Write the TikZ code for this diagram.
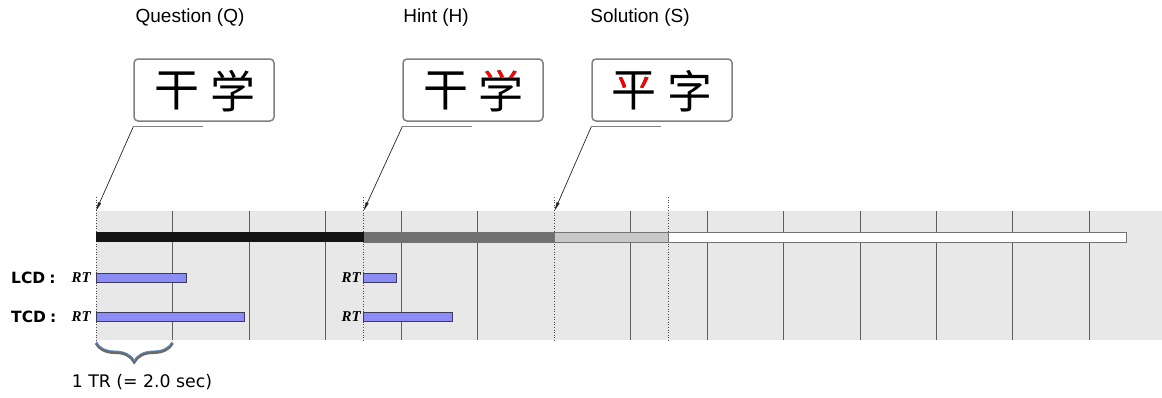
\documentclass[tikz,border=0pt]{standalone}
\usepackage{fontspec}
\setmainfont{Liberation Sans}
\newfontfamily\cjk{Noto Sans CJK SC}
\newfontfamily\dvs{DejaVu Sans}
\newfontfamily\tnr{Liberation Serif}
\usetikzlibrary{arrows.meta,decorations.pathreplacing,calc}
\definecolor{bggray}{HTML}{E8E8E8}
\definecolor{tickgray}{HTML}{5E5E5E}
\definecolor{rtblue}{HTML}{8C8CF6}
\definecolor{rtedge}{HTML}{3C3C5A}
\definecolor{segA}{HTML}{141414}
\definecolor{segB}{HTML}{707070}
\definecolor{segC}{HTML}{C8C8C8}
\definecolor{bracegray}{HTML}{6A6A6A}
\definecolor{braceblue}{HTML}{5B8CC8}
\begin{document}
\begin{tikzpicture}[x=1pt,y=-1pt,
  titletext/.style={font=\fontsize{19}{21}\selectfont, inner sep=0pt},
  charbox/.style={draw=gray, line width=1.5pt, rounded corners=4pt, fill=white,
                  minimum width=140pt, minimum height=62pt, inner sep=0pt},
  glyph/.style={font=\cjk\fontsize{45}{46}\selectfont, inner sep=0pt, anchor=center},
  callout/.style={draw=black!85, line width=0.7pt, -{Triangle[length=9pt,width=3pt]}},
  underline/.style={draw=gray, line width=1pt},
  tickline/.style={draw=tickgray, line width=1.4pt},
  evmark/.style={draw=black!70, line width=0.6pt, dotted},
  segbox/.style={draw=black!55, line width=0.7pt},
  rtbar/.style={draw=rtedge, fill=rtblue, line width=0.7pt},
  rowlab/.style={font=\dvs\bfseries\fontsize{15.5}{17}\selectfont, inner sep=0pt, anchor=west},
  rtlab/.style={font=\tnr\bfseries\itshape\fontsize{15}{17}\selectfont, inner sep=0pt, anchor=east},
  notetext/.style={font=\dvs\fontsize{17.3}{19}\selectfont, inner sep=0pt}
]
\useasboundingbox (0,0) rectangle (1162,397);

% titles
\node[titletext] (tq) at (190,18) {Question (Q)};
\node[titletext] (th) at (436,18) {Hint (H)};
\node[titletext] (ts) at (640,18) {Solution (S)};

% background panel
\fill[bggray] (96,211) rectangle (1162,340);

% ticks every TR
\foreach \xx in {172.5,249.5,325.5,401.5,477.5,630.5,707.5,783.5,860.5,936.5,1012.5,1089.5} {
  \draw[tickline] (\xx,211) -- (\xx,340);
}

% event markers (dotted)
\coordinate (qt) at (96,211);
\coordinate (ht) at (363.5,211);
\coordinate (st) at (554.5,211);
\coordinate (et) at (668.5,211);
\foreach \p in {qt,ht,st,et} {
  \draw[evmark] ([yshift=14pt]\p) -- ([yshift=-130pt]\p);
}

% timeline bar
\draw[segbox, fill=white] (668.5,232) rectangle (1126,242);
\draw[segbox, fill=segC] (554.5,232) rectangle (668.5,242);
\draw[segbox, fill=segB] (363.5,232) rectangle (554.5,242);
\fill[segA] (96,232) rectangle (363.5,242);

% boxes
\node[charbox] (qbox) at (204,90) {};
\node[charbox] (hbox) at (473,90) {};
\node[charbox] (sbox) at (662,90) {};

% characters
\node[glyph] (q1) at (177,91) {干};
\node[glyph] (q2) at (233,91) {学};
\node[glyph] (h1) at (446,91) {干};
\node[glyph] (h2) at (501,91) {学};
\node[glyph] (s1) at (634,91) {平};
\node[glyph] (s2) at (690,91) {字};

% red parts
\begin{scope}
  \clip ([shift={(-4pt,4pt)}]h2.north west) rectangle ($(h2.north east)!0.19!(h2.south east)+(4pt,0)$);
  \node[glyph, red] at (501,91) {学};
\end{scope}
\begin{scope}
  \clip ($(s1.north west)!0.15!(s1.south west)$) rectangle ($(s1.north)!0.43!(s1.south)+(-2.4pt,0)$);
  \node[glyph, red] at (634,91) {平};
\end{scope}
\begin{scope}
  \clip ($(s1.north east)!0.15!(s1.south east)$) rectangle ($(s1.north)!0.43!(s1.south)+(2.4pt,0)$);
  \node[glyph, red] at (634,91) {平};
\end{scope}

% callouts
\coordinate (qc) at ([yshift=-5pt]qbox.south west);
\coordinate (hc) at ([yshift=-5pt]hbox.south west);
\coordinate (sc) at ([yshift=-5pt]sbox.south west);
\draw[underline] (qc) -- ++(70,0);
\draw[underline] (hc) -- ++(70,0);
\draw[underline] (sc) -- ++(70,0);
\draw[callout] (qc) -- (qt);
\draw[callout] (hc) -- (ht);
\draw[callout] (sc) -- (st);

% RT bars
\node[rowlab] (lcd) at (11,278) {LCD\hspace{4pt}:};
\node[rowlab] (tcd) at (11,317) {TCD\hspace{4pt}:};
\node[rtlab] (rt1) at (91,277.5) {RT};
\node[rtlab] (rt2) at (91,316.5) {RT};
\node[rtlab] (rt3) at (361,277.5) {RT};
\node[rtlab] (rt4) at (361,316.5) {RT};
\draw[rtbar] (96,273) rectangle (186.5,282);
\draw[rtbar] (96,312) rectangle (244.3,321);
\draw[rtbar] (363.5,273) rectangle (396.7,282);
\draw[rtbar] (363.5,312) rectangle (452.3,321);

% brace
\coordinate (b1) at (96,343);
\coordinate (b2) at (172.5,343);
\draw[decorate, decoration={brace, mirror, amplitude=19pt}, bracegray, line width=3pt] (b1) -- (b2);
\draw[decorate, decoration={brace, mirror, amplitude=19pt}, braceblue, line width=0.8pt] ([yshift=1.5pt]b1) -- ([yshift=1.5pt]b2);
\node[notetext] (tr) at (142,382) {1 TR (= 2.0 sec)};
\end{tikzpicture}
\end{document}
